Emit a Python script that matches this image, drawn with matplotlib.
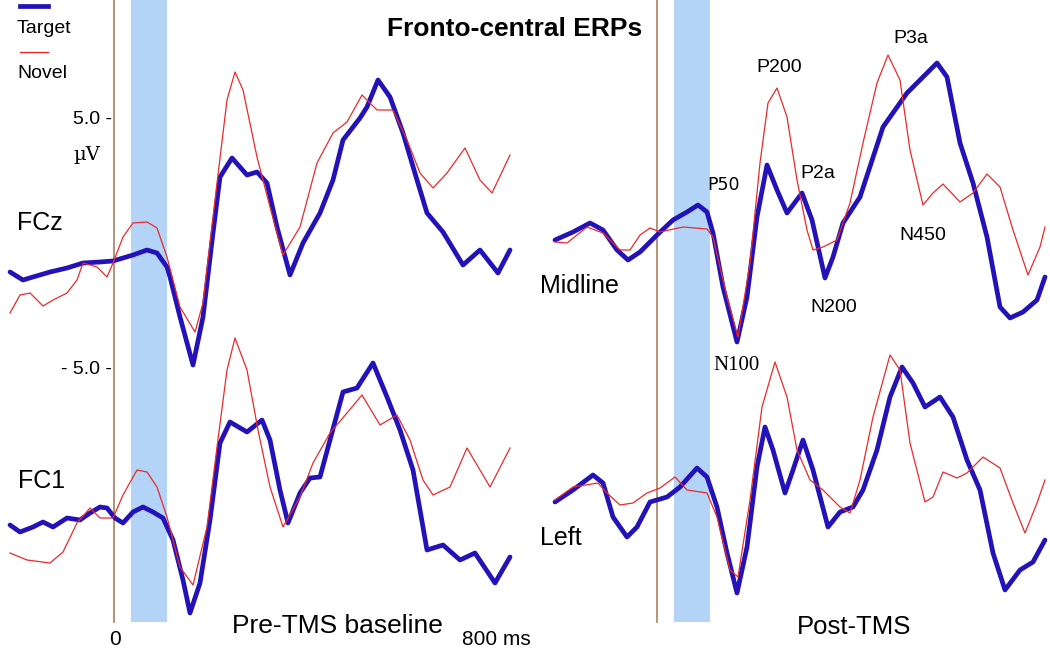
import matplotlib
matplotlib.use("Agg")
import matplotlib.pyplot as plt
from matplotlib.lines import Line2D

plt.rcParams['font.family'] = ['Liberation Sans', 'DejaVu Sans']

# ---- data (time in ms, amplitude in uV) ----
# Pre-TMS baseline, FCz
fcz_target_t = [-208, -182, -162, -128, -94, -62, -28, -2, 38, 66, 86, 106, 112, 132, 158, 178, 198, 212,
                236, 266, 286, 306, 326, 352, 378, 412, 438, 458, 492, 506, 528, 552, 578, 606, 626, 658,
                698, 732, 768, 792]
fcz_target_uv = [-1.12, -1.44, -1.32, -1.12, -0.96, -0.76, -0.72, -0.68, -0.44, -0.24, -0.36, -0.92, -1.32,
                 -2.92, -4.84, -2.92, 0.44, 2.68, 3.44, 2.76, 2.88, 2.44, 0.68, -1.24, 0.04, 1.24, 2.56,
                 4.16, 5.04, 5.48, 6.56, 5.88, 4.44, 2.56, 1.24, 0.48, -0.84, -0.24, -1.16, -0.24]
fcz_novel_t = [-208, -188, -168, -142, -122, -94, -74, -62, -34, -14, -2, 18, 38, 66, 86, 106, 132, 162,
               178, 206, 226, 242, 258, 286, 312, 338, 372, 406, 438, 466, 496, 526, 558, 586, 612, 638,
               666, 702, 732, 756, 792]
fcz_novel_uv = [-2.76, -2.04, -1.96, -2.48, -2.24, -1.96, -1.44, -0.76, -0.92, -1.32, -0.76, 0.28, 0.84,
                0.88, 0.64, -0.52, -2.52, -3.52, -2.36, 2.44, 5.76, 6.88, 6.16, 3.48, 1.48, -0.44, 0.68,
                3.24, 4.44, 4.88, 5.96, 5.36, 5.36, 4.16, 2.84, 2.24, 2.84, 3.84, 2.56, 2.04, 3.56]

# Pre-TMS baseline, FC1
fc1_target_t = [-208, -188, -162, -142, -122, -94, -68, -48, -28, -14, 2, 18, 38, 58, 78, 98, 118, 138,
                152, 172, 192, 212, 232, 266, 296, 312, 332, 348, 372, 392, 412, 432, 458, 486, 518, 546,
                572, 598, 626, 658, 692, 722, 762, 792]
fc1_target_uv = [-0.92, -1.20, -1.00, -0.80, -1.00, -0.64, -0.72, -0.44, -0.20, -0.24, -0.64, -0.84, -0.40,
                 -0.20, -0.40, -0.64, -1.52, -3.12, -4.44, -3.24, -0.72, 2.36, 3.20, 2.80, 3.28, 2.48,
                 0.48, -0.84, 0.36, 0.96, 1.00, 2.48, 4.40, 4.56, 5.56, 4.20, 2.88, 1.28, -1.92, -1.72,
                 -2.32, -2.04, -3.24, -2.20]
fc1_novel_t = [-208, -174, -128, -102, -74, -48, -28, -2, 18, 46, 66, 86, 106, 132, 158, 186, 206, 226,
               242, 266, 288, 312, 338, 372, 398, 432, 466, 496, 532, 566, 592, 618, 638, 672, 706, 752, 792]
fc1_novel_uv = [-2.04, -2.32, -2.44, -2.00, -0.84, -0.24, -0.64, -0.64, 0.28, 1.28, 1.20, 0.60, -0.60,
                -2.60, -3.32, -1.00, 2.20, 5.28, 6.56, 5.28, 2.88, 0.60, -1.00, 0.20, 1.56, 2.76, 3.56,
                4.28, 3.08, 3.48, 2.48, 0.88, 0.28, 0.60, 2.16, 0.60, 2.16]

# Post-TMS, midline
mid_target_t = [-204, -168, -134, -108, -80, -58, -34, 0, 32, 60, 82, 100, 112, 132, 160, 180, 200, 220,
                240, 260, 290, 310, 336, 352, 372, 406, 452, 500, 532, 560, 580, 606, 632, 660, 686, 706,
                732, 760, 776]
mid_target_uv = [0.16, 0.48, 0.84, 0.56, -0.24, -0.64, -0.32, 0.36, 0.96, 1.28, 1.56, 1.28, 0.44, -1.72,
                 -3.92, -2.12, 1.08, 3.16, 2.16, 1.24, 2.04, 0.96, -1.36, -0.52, 0.84, 1.88, 4.68, 6.04,
                 6.68, 7.24, 6.68, 4.04, 2.44, 0.28, -2.52, -2.96, -2.72, -2.24, -1.32]
mid_novel_t = [-204, -180, -140, -108, -74, -54, -34, -14, 6, 52, 100, 112, 140, 162, 186, 206, 222, 240,
               260, 280, 300, 312, 332, 360, 386, 412, 440, 462, 486, 506, 532, 552, 572, 606, 632, 660,
               686, 712, 742, 766, 776]
mid_novel_uv = [0.08, 0.04, 0.68, 0.44, -0.24, -0.24, 0.36, 0.64, 0.48, 0.68, 0.60, 0.28, -2.12, -3.72,
                -0.76, 3.24, 5.64, 6.24, 5.08, 2.56, 0.56, -0.24, -0.12, 0.16, 1.64, 4.04, 6.44, 7.56,
                6.56, 3.76, 1.56, 2.04, 2.40, 1.68, 2.04, 2.80, 2.28, 0.56, -1.24, -0.12, 0.68]

# Post-TMS, left
left_target_t = [-204, -168, -128, -108, -88, -60, -40, -14, 20, 46, 80, 100, 120, 140, 160, 180, 200,
                 216, 232, 256, 272, 292, 312, 342, 366, 392, 412, 440, 466, 490, 512, 536, 566, 592,
                 620, 646, 672, 696, 726, 752, 776]
left_target_uv = [0.00, 0.48, 1.08, 0.76, -0.60, -1.40, -1.00, 0.00, 0.20, 0.60, 1.36, 1.00, -0.20,
                  -2.04, -3.64, -1.80, 1.40, 3.00, 2.08, 0.36, 1.28, 2.48, 1.28, -1.00, -0.40, -0.20,
                  0.48, 2.08, 4.20, 5.40, 4.76, 3.80, 4.20, 3.40, 1.68, 0.48, -2.04, -3.52, -2.72,
                  -2.40, -1.52]
left_novel_t = [-204, -168, -118, -100, -74, -48, -20, 6, 36, 60, 100, 120, 146, 162, 186, 210, 236, 260,
                280, 306, 332, 366, 386, 406, 432, 466, 486, 506, 536, 552, 572, 600, 620, 652, 686, 712,
                736, 760, 776]
left_novel_uv = [0.08, 0.60, 0.76, 0.36, -0.12, -0.04, 0.36, 0.56, 1.00, 0.48, 0.36, -0.60, -2.72, -3.00,
                 0.08, 3.80, 5.60, 4.20, 2.08, 0.88, 0.48, -0.20, -0.44, 0.88, 3.40, 5.88, 5.28, 2.36,
                 0.00, 0.20, 1.20, 0.96, 1.16, 1.80, 1.36, -0.04, -1.24, -0.04, 0.88]

band = (34, 105)          # shaded window, ms
lower_offset = -10.32     # vertical shift of the lower traces, uV

BLUE = '#2212B8'
RED = '#EA2A2A'
BROWN = '#B08A6A'
SHADE = '#B3D3F7'

W, H = 1050, 649
fig = plt.figure(figsize=(W / 100, H / 100), dpi=100)
ylim = (-16.2, 9.76)

ax_l = fig.add_axes([0, 0, 540 / W, 1])
ax_l.set_xlim(-228, 852)
ax_r = fig.add_axes([540 / W, 0, 510 / W, 1])
ax_r.set_xlim(-234, 786)

panels = [
    (ax_l, [(fcz_target_t, fcz_target_uv, fcz_novel_t, fcz_novel_uv, 0.0),
            (fc1_target_t, fc1_target_uv, fc1_novel_t, fc1_novel_uv, lower_offset)]),
    (ax_r, [(mid_target_t, mid_target_uv, mid_novel_t, mid_novel_uv, 0.0),
            (left_target_t, left_target_uv, left_novel_t, left_novel_uv, lower_offset)]),
]

for ax, traces in panels:
    ax.set_ylim(*ylim)
    ax.axis('off')
    ax.axvspan(band[0], band[1], ymin=0.042, ymax=1, color=SHADE, lw=0, zorder=0)
    ax.axvline(0, ymin=0.042, ymax=1, color=BROWN, lw=1.3, zorder=1)
    for tt, tv, nt, nv, off in traces:
        ax.plot(tt, [v + off for v in tv], color=BLUE, lw=3.4, solid_joinstyle='round',
                solid_capstyle='round', zorder=3)
        ax.plot(nt, [v + off for v in nv], color=RED, lw=0.9, solid_joinstyle='round', zorder=4)

# amplitude scale labels
ax_l.text(-4, 5.0, '5.0 -', ha='right', va='center', fontsize=14)
ax_l.text(-4, -5.0, '- 5.0 -', ha='right', va='center', fontsize=14)
ax_l.text(-54, 3.56, 'µV', ha='center', va='center', fontsize=14, family=['DejaVu Serif'])

# component labels (centre time, baseline amplitude)
peak_labels = [('P50', 133, 2.16, 'DejaVu Sans', 12.5),
               ('P200', 244, 6.9, 'Liberation Sans', 14),
               ('P2a', 322, 2.64, 'Liberation Sans', 14),
               ('P3a', 507, 8.04, 'Liberation Sans', 14),
               ('N450', 531, 0.16, 'Liberation Sans', 14),
               ('N200', 354, -2.72, 'Liberation Sans', 14),
               ('N100', 159, -5.04, 'Liberation Serif', 15)]
for txt, t, v, fam, fs in peak_labels:
    ax_r.text(t, v, txt, ha='center', va='baseline', fontsize=fs, family=[fam, 'DejaVu Sans'])


def ftext(x, y, s, **kw):
    fig.text(x / W, 1 - y / H, s, **kw)


# legend
fig.add_artist(Line2D([20 / W, 48 / W], [1 - 6 / H, 1 - 6 / H], color=BLUE, lw=3.4,
                      transform=fig.transFigure))
fig.add_artist(Line2D([20 / W, 48 / W], [1 - 52 / H, 1 - 52 / H], color=RED, lw=1.0,
                      transform=fig.transFigure))
ftext(17, 33, 'Target', fontsize=14, va='baseline')
ftext(17, 78, 'Novel', fontsize=14, va='baseline')

ftext(515, 36, 'Fronto-central ERPs', fontsize=19, fontweight='bold', ha='center', va='baseline')
ftext(17, 230, 'FCz', fontsize=18, va='baseline')
ftext(18, 488, 'FC1', fontsize=18, va='baseline')
ftext(540, 293, 'Midline', fontsize=18, va='baseline')
ftext(540, 545, 'Left', fontsize=18, va='baseline')
ftext(115, 645, '0', fontsize=15, ha='center', va='baseline')
ftext(232, 633, 'Pre-TMS baseline', fontsize=19, va='baseline')
ftext(462, 645, '800 ms', fontsize=15, va='baseline')
ftext(797, 634, 'Post-TMS', fontsize=18.5, va='baseline')

fig.savefig('out.png', dpi=100)
